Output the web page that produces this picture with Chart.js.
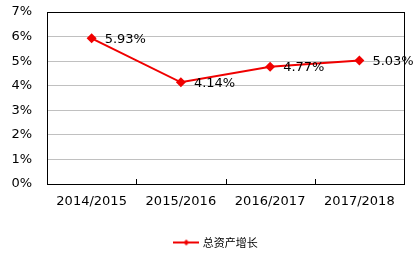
<!DOCTYPE html>
<html>
<head>
<meta charset="utf-8">
<script src="https://cdn.jsdelivr.net/npm/chart.js@4"></script>
<style>
  html, body { margin: 0; padding: 0; background: #fff; }
  #wrap { width: 419px; height: 253px; }
</style>
</head>
<body>
<div id="wrap"><canvas id="growthChart" width="419" height="253"></canvas></div>
<script>
const years = ["2014/2015", "2015/2016", "2016/2017", "2017/2018"];
const assetGrowth = [5.93, 4.14, 4.77, 5.03];
const seriesName = "总资产增长";

const red = "#f00000";

// legend swatch: short line with a diamond in the middle
const swatch = document.createElement("canvas");
swatch.width = 26;
swatch.height = 10;
(function () {
    const c = swatch.getContext("2d");
    c.strokeStyle = red;
    c.lineWidth = 2;
    c.beginPath();
    c.moveTo(0, 5);
    c.lineTo(26, 5);
    c.stroke();
    c.fillStyle = red;
    c.beginPath();
    c.moveTo(13, 2);
    c.lineTo(16, 5);
    c.lineTo(13, 8);
    c.lineTo(10, 5);
    c.closePath();
    c.fill();
})();

const framePlugin = {
    id: "frame",
    afterLayout(chart) {
        // legend sits a little right of centre in the original
        if (chart.legend) {
            chart.legend.left += 29;
        }
    },
    afterDraw(chart) {
        const ctx = chart.ctx;
        const area = chart.chartArea;
        const x = chart.scales.x;

        ctx.save();
        ctx.strokeStyle = "#000";
        ctx.lineWidth = 1;
        ctx.strokeRect(Math.round(area.left) + 0.5, Math.round(area.top) + 0.5,
            Math.round(area.right - area.left), Math.round(area.bottom - area.top));

        // inner tick marks between categories
        for (let i = 1; i < years.length; i++) {
            const px = Math.round((x.getPixelForTick(i - 1) + x.getPixelForTick(i)) / 2) + 0.5;
            ctx.beginPath();
            ctx.moveTo(px, area.bottom - 5);
            ctx.lineTo(px, area.bottom);
            ctx.stroke();
        }

        // value labels to the right of each point
        const meta = chart.getDatasetMeta(0);
        ctx.fillStyle = "#000";
        ctx.font = "13px 'DejaVu Sans', Verdana, sans-serif";
        ctx.textAlign = "left";
        ctx.textBaseline = "middle";
        meta.data.forEach((pt, i) => {
            ctx.fillText(assetGrowth[i].toFixed(2) + "%", pt.x + 13, pt.y + 1);
        });
        ctx.restore();
    }
};

new Chart(document.getElementById("growthChart"), {
    type: "line",
    data: {
        labels: years,
        datasets: [{
            label: seriesName,
            data: assetGrowth,
            borderColor: red,
            backgroundColor: red,
            borderWidth: 2,
            tension: 0,
            pointStyle: "rectRot",
            pointRadius: 5,
            pointBorderWidth: 0
        }]
    },
    options: {
        responsive: false,
        animation: false,
        layout: {
            padding: { top: 12, right: 15, left: 0, bottom: -5 }
        },
        plugins: {
            tooltip: { enabled: false },
            legend: {
                position: "bottom",
                labels: {
                    usePointStyle: true,
                    pointStyle: swatch,
                    pointStyleWidth: 22,
                    padding: 2,
                    color: "#000",
                    font: { family: "'Noto Sans CJK SC', sans-serif", size: 11 }
                }
            }
        },
        scales: {
            x: {
                offset: true,
                grid: { display: false, drawTicks: false },
                border: { display: false },
                ticks: {
                    color: "#000",
                    padding: 10,
                    maxRotation: 0,
                    font: { family: "'DejaVu Sans', Verdana, sans-serif", size: 13 }
                },
                afterFit(scale) { scale.height = 51; }
            },
            y: {
                min: 0,
                max: 7,
                ticks: {
                    stepSize: 1,
                    color: "#000",
                    padding: 15,
                    font: { family: "'DejaVu Sans', Verdana, sans-serif", size: 13 },
                    callback: v => v + "%"
                },
                grid: { color: "#c0c0c0", drawTicks: false },
                border: { display: false },
                afterFit(scale) {
                    scale.width = 47;
                    scale.paddingTop = 0;
                    scale.paddingBottom = 0;
                }
            }
        }
    },
    plugins: [framePlugin]
});
</script>
</body>
</html>
